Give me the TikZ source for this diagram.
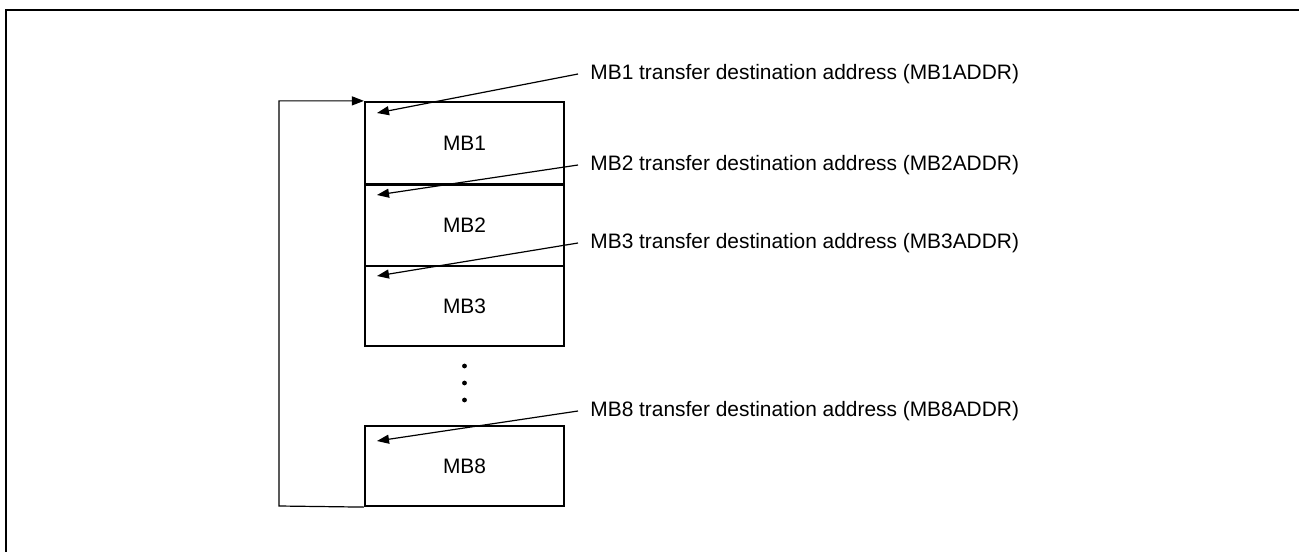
\documentclass[tikz,border=0pt]{standalone}
\usepackage{fontspec}
\setmainfont{Liberation Sans}
\usetikzlibrary{arrows.meta}
\begin{document}
\begin{tikzpicture}[x=0.5pt,y=-0.5pt,
  frameline/.style={line width=1.1pt},
  mbbox/.style={draw,line width=1.1pt,rectangle,minimum width=99.5pt,inner sep=0pt,font=\fontsize{10.45}{12}\selectfont},
  lbl/.style={anchor=west,inner xsep=6pt,inner ysep=0pt,font=\fontsize{10.45}{12}\selectfont},
  ptr/.style={line width=0.6pt,-{Triangle[length=6pt,width=4.5pt]}},
  dotmark/.style={circle,fill,inner sep=0pt,minimum size=2.4pt}]
\useasboundingbox (0,0) rectangle (1299,551);
% outer frame (top and left only visible)
\draw[frameline] (1300,10) -- (6,10) -- (6,552);
% boxes
\node[mbbox,minimum height=41.5pt] (mb1) at (464.5,143.5) {MB1};
\node[mbbox,minimum height=41pt] (mb2) at (464.5,225) {MB2};
\node[mbbox,minimum height=40pt] (mb3) at (464.5,306) {MB3};
\node[mbbox,minimum height=40pt] (mb8) at (464.5,466) {MB8};
% dots
\node[dotmark] (d1) at (464.5,366) {};
\node[dotmark] (d2) at (464.5,383) {};
\node[dotmark] (d3) at (464.5,400) {};
% labels
\node[lbl] (l1) at (578,74) {MB1 transfer destination address (MB1ADDR)};
\node[lbl] (l2) at (578,165) {MB2 transfer destination address (MB2ADDR)};
\node[lbl] (l3) at (578,243) {MB3 transfer destination address (MB3ADDR)};
\node[lbl] (l8) at (578,411) {MB8 transfer destination address (MB8ADDR)};
% arrow tips
\coordinate (t1) at (377,113);
\coordinate (t2) at (377,195);
\coordinate (t3) at (377,276);
\coordinate (t8) at (377,441);
\draw[ptr] (l1.west) -- (t1);
\draw[ptr] (l2.west) -- (t2);
\draw[ptr] (l3.west) -- (t3);
\draw[ptr] (l8.west) -- (t8);
% loop back
\coordinate (lb) at (279,506);
\draw[ptr] (mb8.south west) -- (lb) |- (mb1.north west);
\end{tikzpicture}
\end{document}
